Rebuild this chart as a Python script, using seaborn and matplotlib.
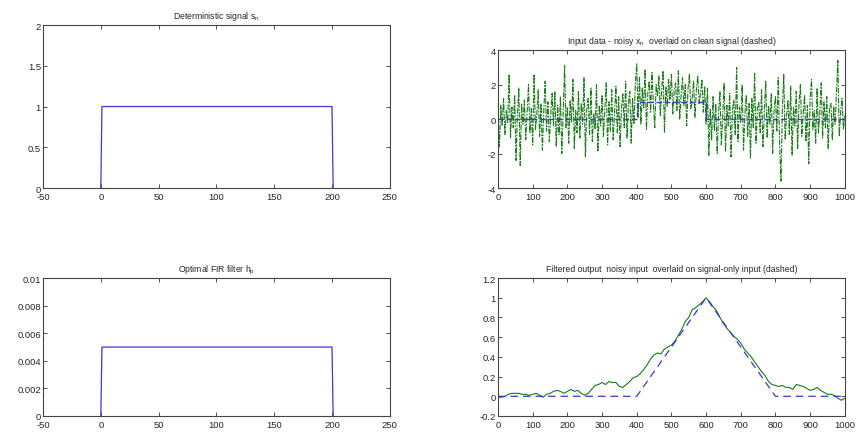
import numpy as np
import matplotlib
matplotlib.use("Agg")
import matplotlib.pyplot as plt
import seaborn as sns
from matplotlib.ticker import FormatStrFormatter

sns.set_style("ticks")
plt.rcParams["font.family"] = ["Liberation Sans", "DejaVu Sans"]
plt.rcParams["mathtext.default"] = "regular"
plt.rcParams["axes.unicode_minus"] = False

# deterministic pulse s_n and FIR filter h_p
pulse_n = [0, 1, 200, 201]
pulse_s = [0, 1, 1, 0]
fir_h = [0, 0.005, 0.005, 0]

# noisy input x_n, one sample every 4 steps
noisy_a = [0.3, -1.6, 0.8, -0.4, 1.2, -0.9, 0.5, -0.2, 2.6, -1.1,
           0.7, -0.5, 1.4, -2.4, 0.2, 1.8, -2.7, 0.9, -0.3, 1.1,
           -1.2, 0.4, 2.0, -0.8, 0.6, -1.5, 2.6, -0.6, 0.3, 1.7,
           -1.0, 0.9, -1.8, 0.5, 2.2, -0.7, 1.0, -1.3, 0.2, 1.5,
           -0.4, 1.6, -1.6, 0.8, -0.9, 1.3, -2.0, 0.4, 3.1, -0.5,
           0.7, -1.4, 1.1, -0.2, 2.3, -1.7, 0.5, -0.8, 1.6, -1.1,
           0.9, -0.3, 2.4, -2.2, 0.6, 1.2, -0.9, 1.8, -1.3, 0.3,
           -0.6, 2.0, -1.9, 0.8, -0.4, 1.4, -1.0, 0.5, 2.1, -1.5,
           1.0, -0.7, 1.7, -1.2, 0.4, 1.9, -0.8, 1.3, -1.6, 0.6,
           1.5, -0.5, 2.2, -1.1, 0.9, 1.6, -1.4, 1.2, -0.3, 2.0]
noisy_b = [3.2, 0.1, 2.4, -0.3, 1.8, 0.6, 2.9, -0.6, 1.5, 2.2,
           0.4, 2.7, 0.9, -0.5, 2.0, 1.3, 2.5, 0.2, 1.7, 2.8,
           -0.8, 1.9, 0.7, 2.3, 1.1, 2.6, 0.3, 1.6, 2.1, 0.5,
           2.8, 0.0, 1.4, 2.4, 0.8, 2.0, -0.4, 1.8, 2.6, 0.6,
           1.2, 2.2, 0.1, 1.7, 2.5, 0.9, 1.5, 2.3, 0.4, 1.9]
noisy_c = [-0.3, 1.8, -2.1, 0.6, -1.2, 1.3, -0.7, 0.9, -2.0, 0.4,
           1.6, -1.5, 0.2, 2.1, -1.9, 0.8, -0.4, 1.5, -2.2, 0.5,
           1.1, -0.9, 3.0, -1.3, 0.7, -0.2, 2.0, -1.8, 0.3, 1.4,
           -1.0, 0.9, -2.3, 1.2, -0.5, 2.7, -1.4, 0.6, 1.0, -0.8,
           1.7, -1.6, 0.4, 2.2, -1.1, 0.8, -0.3, 1.5, -2.0, 0.5,
           1.3, -0.7, 2.4, -1.5, -3.6, 0.6, 2.6, -1.2, 0.2, 1.1,
           -0.9, 1.9, -2.1, 0.7, -0.4, 1.6, -1.7, 0.9, 2.0, -1.0,
           0.3, 1.4, -1.3, 0.8, -2.6, 1.2, 2.3, -0.6, 0.5, -1.4,
           1.8, -0.8, 0.4, 2.1, -1.1, 1.0, -0.5, 1.3, -1.7, 0.6,
           0.9, -1.2, 0.7, -0.3, 1.5, 3.4, -1.0, 0.4, 1.2, -0.6,
           0.2]
noisy_x = noisy_a + noisy_b + noisy_c
noisy_n = np.arange(len(noisy_x)) * 4

clean_n = [0, 400, 400, 600, 600, 1000]
clean_s = [0, 0, 1, 1, 0, 0]

# filtered output, one sample every 10 steps
filt_y = [-0.01, -0.01, 0.0, 0.02, 0.03, 0.03, 0.03, 0.02, 0.02, 0.01,
          0.02, 0.03, 0.01, -0.01, 0.02, 0.03, 0.05, 0.06, 0.05, 0.03,
          0.05, 0.07, 0.05, 0.06, 0.03, 0.01, 0.03, 0.07, 0.11, 0.12,
          0.14, 0.12, 0.15, 0.14, 0.14, 0.10, 0.09, 0.12, 0.15, 0.19,
          0.20, 0.23, 0.27, 0.32, 0.38, 0.42, 0.44, 0.43, 0.48, 0.50,
          0.52, 0.56, 0.62, 0.68, 0.76, 0.80, 0.88, 0.90, 0.93, 0.96,
          1.00, 0.96, 0.91, 0.87, 0.80, 0.74, 0.69, 0.65, 0.61, 0.58,
          0.54, 0.48, 0.44, 0.40, 0.35, 0.30, 0.25, 0.21, 0.15, 0.12,
          0.11, 0.10, 0.11, 0.09, 0.09, 0.07, 0.12, 0.11, 0.10, 0.08,
          0.06, 0.07, 0.09, 0.06, 0.04, 0.02, 0.02, 0.01, -0.02, -0.04,
          -0.02]
filt_n = np.arange(len(filt_y)) * 10

tri_n = [0, 400, 600, 800, 1000]
tri_y = [0, 0, 1, 0, 0]

blue = "#3a3ac8"
green = "#1a7a1a"

fig = plt.figure(figsize=(8.67, 4.35), dpi=100)
ax1 = fig.add_axes([0.0496, 0.5655, 0.400, 0.3747])
ax2 = fig.add_axes([0.5744, 0.5655, 0.400, 0.317])
ax3 = fig.add_axes([0.0496, 0.0414, 0.400, 0.317])
ax4 = fig.add_axes([0.5744, 0.0414, 0.400, 0.317])

kw = dict(estimator=None, sort=False, legend=False)

sns.lineplot(x=pulse_n, y=pulse_s, ax=ax1, color=blue, lw=0.9, **kw)
ax1.set_xlim(-50, 250)
ax1.set_ylim(0, 2)
ax1.set_yticks([0, 0.5, 1, 1.5, 2])
ax1.set_title("Deterministic signal s$_n$")

sns.lineplot(x=noisy_n, y=noisy_x, ax=ax2, color=green, lw=0.8, **kw)
ax2.lines[-1].set_dashes((5, 1.2, 1.5, 1.2))
sns.lineplot(x=clean_n, y=clean_s, ax=ax2, color=blue, lw=1.0, **kw)
ax2.lines[-1].set_dashes((4, 2))
ax2.set_xlim(0, 1000)
ax2.set_ylim(-4, 4)
ax2.set_xticks(range(0, 1001, 100))
ax2.set_yticks([-4, -2, 0, 2, 4])
ax2.set_title("Input data - noisy x$_n$  overlaid on clean signal (dashed)")

sns.lineplot(x=pulse_n, y=fir_h, ax=ax3, color=blue, lw=0.9, **kw)
ax3.set_xlim(-50, 250)
ax3.set_ylim(0, 0.01)
ax3.set_yticks([0, 0.002, 0.004, 0.006, 0.008, 0.01])
ax3.set_title("Optimal FIR filter h$_p$")

sns.lineplot(x=filt_n, y=filt_y, ax=ax4, color=green, lw=0.8, **kw)
sns.lineplot(x=tri_n, y=tri_y, ax=ax4, color=blue, lw=0.9, **kw)
ax4.lines[-1].set_dashes((6, 4))
ax4.set_xlim(0, 1000)
ax4.set_ylim(-0.2, 1.2)
ax4.set_xticks(range(0, 1001, 100))
ax4.set_yticks([-0.2, 0, 0.2, 0.4, 0.6, 0.8, 1, 1.2])
ax4.set_title("Filtered output  noisy input  overlaid on signal-only input (dashed)")

for ax in (ax1, ax2, ax3, ax4):
    ax.set_xlabel("")
    ax.set_ylabel("")
    ax.xaxis.set_major_formatter(FormatStrFormatter("%g"))
    ax.yaxis.set_major_formatter(FormatStrFormatter("%g"))
    ax.tick_params(direction="in", top=True, right=True, length=3,
                   width=0.6, labelsize=6.8, color="#333333")
    ax.tick_params(axis="x", pad=3)
    ax.tick_params(axis="y", pad=1.5)
    for sp in ax.spines.values():
        sp.set_visible(True)
        sp.set_linewidth(0.8)
        sp.set_color("#444444")
    ax.set_title(ax.get_title(), fontsize=6.2, pad=5)

fig.savefig("out.png", dpi=100, facecolor="white")
